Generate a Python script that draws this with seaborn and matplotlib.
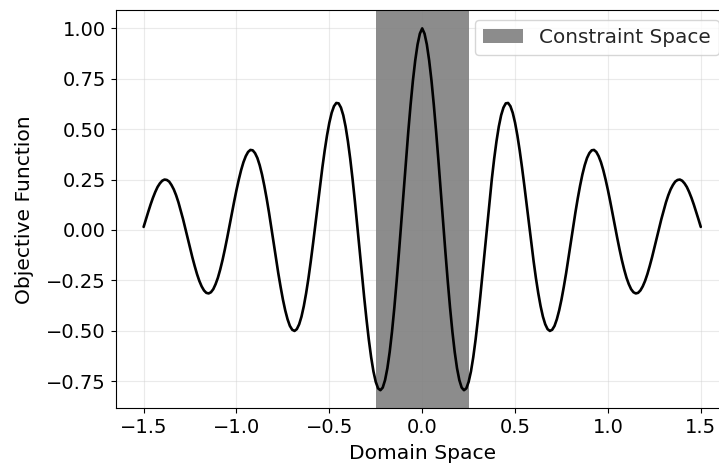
import numpy as np
import matplotlib
matplotlib.use('Agg')
import matplotlib.pyplot as plt
import seaborn as sns

# values, x from -1.5 to 1.5 in steps of 0.0125
X_MIN, X_MAX, N_PTS = -1.5, 1.5, 241
objective = [
    0.015, 0.053, 0.090, 0.126, 0.159, 0.188, 0.213, 0.231, 0.244, 0.250,
    0.248, 0.240, 0.223, 0.201, 0.172, 0.137, 0.096, 0.053, 0.006, -0.041,
    -0.089, -0.136, -0.179, -0.219, -0.253, -0.280, -0.300, -0.312, -0.315, -0.309,
    -0.294, -0.269, -0.237, -0.196, -0.149, -0.096, -0.039, 0.021, 0.081, 0.141,
    0.198, 0.250, 0.297, 0.336, 0.366, 0.387, 0.397, 0.395, 0.381, 0.357,
    0.321, 0.275, 0.219, 0.156, 0.087, 0.013, -0.063, -0.139, -0.214, -0.282,
    -0.345, -0.399, -0.443, -0.476, -0.495, -0.501, -0.492, -0.468, -0.430, -0.378,
    -0.314, -0.240, -0.156, -0.066, 0.029, 0.125, 0.220, 0.310, 0.394, 0.469,
    0.532, 0.581, 0.614, 0.630, 0.628, 0.607, 0.569, 0.513, 0.440, 0.353,
    0.253, 0.143, 0.026, -0.094, -0.215, -0.333, -0.443, -0.544, -0.631, -0.702,
    -0.754, -0.786, -0.795, -0.782, -0.745, -0.686, -0.605, -0.504, -0.386, -0.253,
    -0.110, 0.040, 0.192, 0.343, 0.487, 0.621, 0.741, 0.841, 0.920, 0.974,
    1.000,
    0.974, 0.920, 0.841, 0.741, 0.621, 0.487, 0.343, 0.192, 0.040, -0.110,
    -0.253, -0.386, -0.504, -0.605, -0.686, -0.745, -0.782, -0.795, -0.786, -0.754,
    -0.702, -0.631, -0.544, -0.443, -0.333, -0.215, -0.094, 0.026, 0.143, 0.253,
    0.353, 0.440, 0.513, 0.569, 0.607, 0.628, 0.630, 0.614, 0.581, 0.532,
    0.469, 0.394, 0.310, 0.220, 0.125, 0.029, -0.066, -0.156, -0.240, -0.314,
    -0.378, -0.430, -0.468, -0.492, -0.501, -0.495, -0.476, -0.443, -0.399, -0.345,
    -0.282, -0.214, -0.139, -0.063, 0.013, 0.087, 0.156, 0.219, 0.275, 0.321,
    0.357, 0.381, 0.395, 0.397, 0.387, 0.366, 0.336, 0.297, 0.250, 0.198,
    0.141, 0.081, 0.021, -0.039, -0.096, -0.149, -0.196, -0.237, -0.269, -0.294,
    -0.309, -0.315, -0.312, -0.300, -0.280, -0.253, -0.219, -0.179, -0.136, -0.089,
    -0.041, 0.006, 0.053, 0.096, 0.137, 0.172, 0.201, 0.223, 0.240, 0.248,
    0.250, 0.244, 0.231, 0.213, 0.188, 0.159, 0.126, 0.090, 0.053, 0.015,
]
domain = np.linspace(X_MIN, X_MAX, N_PTS)

constraint_lo, constraint_hi = -0.25, 0.25
constraint_label = "Constraint Space"

sns.set_style("ticks")
plt.rcParams['font.family'] = ['DejaVu Sans']
plt.rcParams['font.size'] = 14
plt.rcParams['axes.labelsize'] = 14.6
plt.rcParams['xtick.labelsize'] = 14
plt.rcParams['ytick.labelsize'] = 14
plt.rcParams['legend.fontsize'] = 14.4

fig, ax = plt.subplots(figsize=(7.19, 4.68), dpi=100)
# the reference is cut on the right, so the axes run past the figure edge
fig.subplots_adjust(left=0.161, right=1.0134, top=0.978, bottom=0.1276)

ax.axvspan(constraint_lo, constraint_hi, color="gray", alpha=0.9,
           linewidth=0, label=constraint_label, zorder=1)
sns.lineplot(x=domain, y=objective, color="black", linewidth=1.9, ax=ax, zorder=3)

ax.grid(True, alpha=0.4, linewidth=0.8, zorder=2)
for s in ax.spines.values():
    s.set_color("black")
ax.tick_params(colors="black")
ax.set_xlabel("Domain Space", color="black", labelpad=5)
ax.set_ylabel("Objective Function", color="black", labelpad=9)
ax.legend(loc="upper right")

plt.savefig("out.png", dpi=100)
plt.close()
